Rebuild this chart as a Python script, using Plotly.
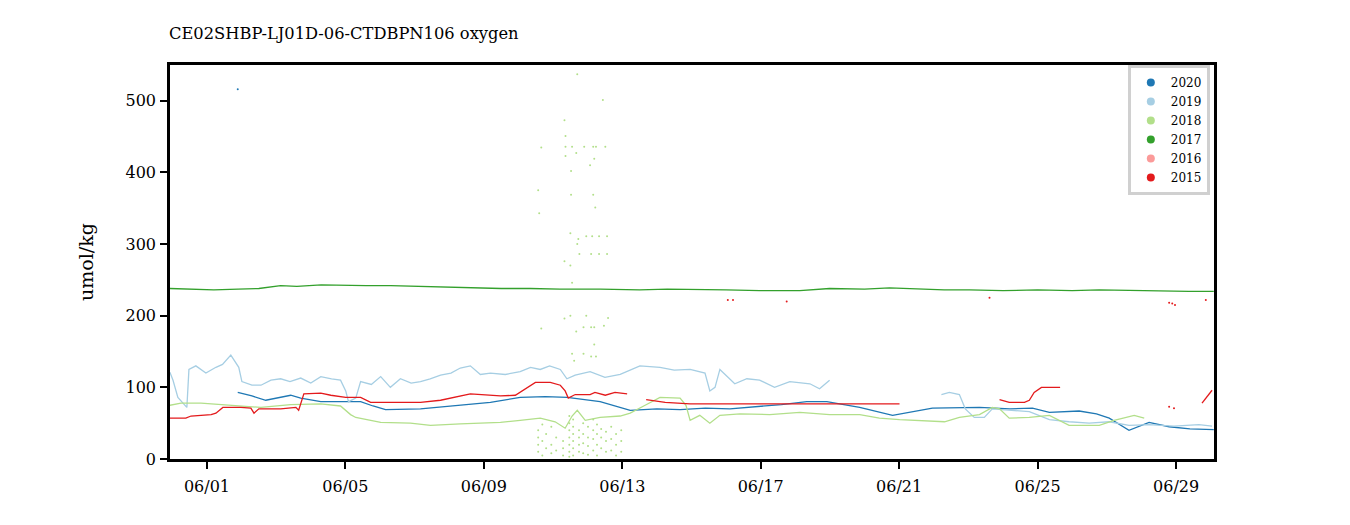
import numpy as np
import pandas as pd
import plotly.graph_objects as go

# days are fractional June days (1.0 = 06/01 00:00), values in umol/kg
days_2020 = [1.89, 2.30, 2.70, 3.10, 3.42, 3.71, 4.00, 4.29, 5.01, 5.44, 5.80, 6.16, 7.17,
             8.18, 9.19, 10.05, 10.78, 11.41, 12.36, 13.23, 14.00, 14.67, 15.40, 16.11,
             16.97, 17.60, 18.33, 18.91, 19.40, 19.86, 20.81, 21.59, 21.96, 23.32, 24.20,
             24.85, 25.34, 26.20, 26.70, 27.07, 27.40, 27.64, 28.22, 28.80, 29.40, 30.09]
oxy_2020 = [93, 88, 82, 86, 89, 85, 82, 80, 80, 80, 74, 69, 70,
            75, 79, 86, 87, 86, 80, 68, 70, 69, 71, 70,
            73, 76, 80, 80, 76, 72, 61, 68, 71, 72, 70,
            71, 65, 67, 63, 57, 47, 40, 51, 45, 42, 41]

days_2019 = [-0.07, 0.02, 0.16, 0.31, 0.42, 0.48, 0.68, 0.97, 1.26, 1.45, 1.69, 1.92, 2.01,
             2.30, 2.56, 2.85, 3.13, 3.40, 3.71, 4.00, 4.29, 4.60, 4.86, 5.01, 5.09, 5.30,
             5.44, 5.75, 6.02, 6.30, 6.59, 6.90, 7.17, 7.45, 7.75, 8.05, 8.32, 8.61, 8.90,
             9.19, 9.62, 10.05, 10.35, 10.63, 10.90, 11.21, 11.40, 11.64, 12.07, 12.50,
             12.94, 13.51, 14.09, 14.50, 14.96, 15.39, 15.53, 15.68, 15.82, 16.25, 16.60,
             16.97, 17.40, 17.84, 18.42, 18.70, 18.99, 19.00,
             22.22, 22.45, 22.74, 22.91, 23.17, 23.46, 23.69, 24.18, 24.76, 25.34, 25.91,
             26.49, 27.07, 27.64, 28.22, 28.94, 29.66, 30.04]
oxy_2019 = [121, 110, 86, 78, 72, 125, 130, 120, 128, 132, 145, 128, 108,
            103, 103, 110, 112, 108, 113, 106, 115, 112, 110, 95, 80, 85,
            108, 104, 115, 100, 112, 106, 108, 112, 117, 120, 127, 130, 118,
            120, 118, 122, 128, 125, 130, 125, 112, 117, 122, 114,
            118, 130, 128, 124, 125, 120, 95, 100, 125, 105, 112,
            110, 100, 108, 105, 98, 110, None,
            90, 93, 90, 70, 58, 58, 70, 68, 66, 55, 52,
            50, 52, 47, 48, 46, 48, 46]

days_2018 = [-0.07, 0.25, 0.83, 1.69, 2.56, 3.42, 4.29, 4.86, 5.15, 5.30, 5.73, 6.02, 6.88,
             7.46, 8.32, 9.48, 10.05, 10.63, 11.06, 11.35, 11.55, 11.70, 11.93, 12.36, 12.94,
             13.23, 13.66, 14.09, 14.67, 14.84, 14.96, 15.24, 15.53, 15.82, 16.40, 17.26,
             18.13, 18.99, 19.86, 20.43, 21.01, 21.59, 22.31, 22.74, 23.32, 23.69, 23.90,
             24.18, 24.76, 25.34, 25.91, 26.78, 27.21, 27.79, 28.08]
oxy_2018 = [75, 78, 78, 75, 72, 76, 77, 74, 62, 58, 54, 51, 50,
            47, 49, 51, 54, 57, 52, 43, 60, 68, 54, 58, 60,
            64, 75, 86, 85, 75, 54, 61, 50, 61, 63, 62,
            65, 62, 62, 57, 55, 54, 52, 58, 62, 72, 70,
            57, 58, 61, 47, 47, 54, 61, 57]

# scattered 2018 outliers
out_days_2018 = [11.70, 12.44, 11.33, 11.36, 10.66, 11.36, 11.55, 11.90, 12.16, 12.24, 12.51,
                 11.36, 11.67, 12.19, 12.07, 11.52, 10.57, 11.52, 12.16, 10.60, 12.22, 11.50,
                 11.73, 11.96, 12.13, 12.33, 12.56, 11.70, 11.76, 12.10, 12.33, 12.56, 11.33,
                 11.50, 11.55, 11.33, 11.50, 11.96, 10.66, 11.67, 11.88, 12.10, 12.19, 12.47,
                 12.59, 11.55, 11.88, 12.19, 12.10, 12.24, 11.61]
out_oxy_2018 = [537, 501, 473, 451, 435, 436, 436, 436, 436, 436, 436,
                423, 427, 419, 410, 402, 375, 369, 369, 343, 351, 315,
                307, 311, 311, 311, 311, 300, 286, 286, 286, 286, 276,
                270, 246, 196, 200, 200, 182, 178, 184, 184, 184, 186,
                197, 147, 147, 160, 143, 143, 137]
low_days_2018 = [10.57, 10.57, 10.57, 10.57, 10.69, 10.69, 10.69, 10.80, 10.80, 10.95, 10.95,
                 10.95, 11.09, 11.09, 11.29, 11.29, 11.29, 11.47, 11.47, 11.47, 11.47, 11.47,
                 11.47, 11.47, 11.58, 11.58, 11.58, 11.58, 11.58, 11.58, 11.75, 11.75, 11.75,
                 11.75, 11.87, 11.87, 11.87, 11.87, 12.01, 12.01, 12.01, 12.01, 12.16, 12.16,
                 12.16, 12.16, 12.27, 12.27, 12.27, 12.27, 12.39, 12.39, 12.39, 12.53, 12.53,
                 12.53, 12.68, 12.68, 12.68, 12.82, 12.82, 12.82, 12.97, 12.97, 12.97]
low_oxy_2018 = [40, 30, 20, 10, 48, 25, 5, 35, 15, 45, 20,
                8, 30, 12, 25, 15, 5, 60, 50, 40, 30, 20,
                10, 3, 55, 45, 35, 25, 15, 5, 40, 30, 20,
                10, 50, 35, 22, 8, 45, 30, 18, 6, 55, 40,
                28, 12, 48, 35, 20, 5, 42, 30, 15, 38, 25,
                10, 45, 28, 12, 35, 20, 5, 40, 25, 10]

days_2017 = [-0.07, 0.60, 1.20, 1.90, 2.50, 3.13, 3.60, 4.30, 5.00, 5.60, 6.31, 7.17, 8.04,
             8.80, 9.50, 10.34, 11.20, 12.36, 13.50, 14.30, 15.24, 16.00, 16.97, 18.13,
             18.99, 20.00, 20.72, 21.59, 22.30, 23.03, 24.00, 25.00, 26.00, 26.78, 27.80,
             28.80, 29.37, 30.09]
oxy_2017 = [238, 237, 236, 237, 238, 242, 241, 243, 242, 242, 242, 241, 239,
            239, 238, 238, 237, 237, 236, 237, 237, 236, 235, 235,
            238, 237, 239, 237, 236, 236, 235, 236, 235, 236, 235,
            235, 234, 234]

days_2015 = [-0.07, 0.39, 0.54, 1.12, 1.26, 1.46, 1.98, 2.27, 2.36, 2.50, 3.13, 3.57, 3.65,
             3.80, 4.29, 4.58, 5.01, 5.44, 5.73, 7.17, 7.75, 8.61, 9.48, 9.91, 10.49, 10.92,
             11.21, 11.35, 11.44, 11.64, 12.07, 12.21, 12.51, 12.79, 13.14, 13.40,
             13.69, 14.24, 14.96, 21.01, 21.10,
             23.90, 24.18, 24.62, 24.76, 24.90, 25.11, 25.65, 25.70,
             29.75, 30.04]
oxy_2015 = [57, 57, 60, 62, 64, 72, 72, 71, 64, 70, 70, 72, 68,
            91, 92, 89, 86, 86, 79, 79, 82, 91, 88, 89, 107, 107,
            103, 95, 85, 90, 90, 93, 89, 93, 91, None,
            83, 79, 77, 77, None,
            83, 79, 79, 82, 93, 100, 100, None,
            78, 96]

dot_days_2015 = [16.05, 16.20, 17.75, 23.61, 28.80, 28.89, 28.97, 29.86, 28.80, 28.94]
dot_oxy_2015 = [222, 222, 220, 225, 218, 217, 215, 222, 73, 71]
dot_days_2020 = [1.89]
dot_oxy_2020 = [516]

years = ["2020", "2019", "2018", "2017", "2016", "2015"]
colors = {"2020": "#1f78b4", "2019": "#a6cee3", "2018": "#b2df8a",
          "2017": "#33a02c", "2016": "#fb9a99", "2015": "#e31a1c"}


def to_time(days):
    return pd.Timestamp("2020-06-01") + pd.to_timedelta(np.array(days) - 1, unit="D")


fig = go.Figure()

lines = {
    "2020": (days_2020, oxy_2020),
    "2019": (days_2019, oxy_2019),
    "2018": (days_2018, oxy_2018),
    "2017": (days_2017, oxy_2017),
    "2015": (days_2015, oxy_2015),
}
for year, (d, v) in lines.items():
    fig.add_trace(go.Scatter(x=to_time(d), y=v, mode="lines", showlegend=False,
                             line=dict(color=colors[year], width=1.3), legendgroup=year))

dots = [
    ("2018", out_days_2018, out_oxy_2018),
    ("2018", low_days_2018, low_oxy_2018),
    ("2015", dot_days_2015, dot_oxy_2015),
    ("2020", dot_days_2020, dot_oxy_2020),
]
for year, d, v in dots:
    fig.add_trace(go.Scatter(x=to_time(d), y=v, mode="markers", showlegend=False,
                             marker=dict(color=colors[year], size=2), legendgroup=year))

# legend entries drawn as round markers
for year in years:
    fig.add_trace(go.Scatter(x=[None], y=[None], mode="markers", name=year,
                             marker=dict(color=colors[year], size=8), legendgroup=year))

x_start = to_time([-0.067])[0]
x_end = to_time([30.096])[0]

# the page adds ~8px body margin, so margins are shifted by that amount
fig.update_layout(
    width=1350, height=525,
    margin=dict(l=162, r=144, t=57, b=74),
    paper_bgcolor="white", plot_bgcolor="white",
    font=dict(family="DejaVu Serif", size=16, color="black"),
    title=dict(text="CE02SHBP-LJ01D-06-CTDBPN106 oxygen", x=161 / 1350, xanchor="left",
               y=1 - 25 / 525, yanchor="middle", font=dict(size=16.3)),
    legend=dict(x=0.996, y=1.0, xanchor="right", yanchor="top", bgcolor="white",
                bordercolor="#d0d0d0", borderwidth=3, font=dict(size=12),
                tracegroupgap=0, itemwidth=30),
    xaxis=dict(range=[x_start, x_end], tickformat="%m/%d", dtick=4 * 86400000,
               tick0="2020-06-01", showgrid=False, zeroline=False,
               showline=True, linecolor="black", linewidth=2.5, mirror=True,
               ticks="outside", ticklen=7, tickwidth=2, tickcolor="black",
               ticklabelstandoff=4),
    yaxis=dict(range=[0, 550], tickvals=[0, 100, 200, 300, 400, 500], showgrid=False,
               zeroline=False, showline=True, linecolor="black", linewidth=2.5, mirror=True,
               ticks="outside", ticklen=7, tickwidth=2, tickcolor="black",
               ticklabelstandoff=1,
               title=dict(text="umol/kg", standoff=27)),
)

fig.write_html("out.html")
